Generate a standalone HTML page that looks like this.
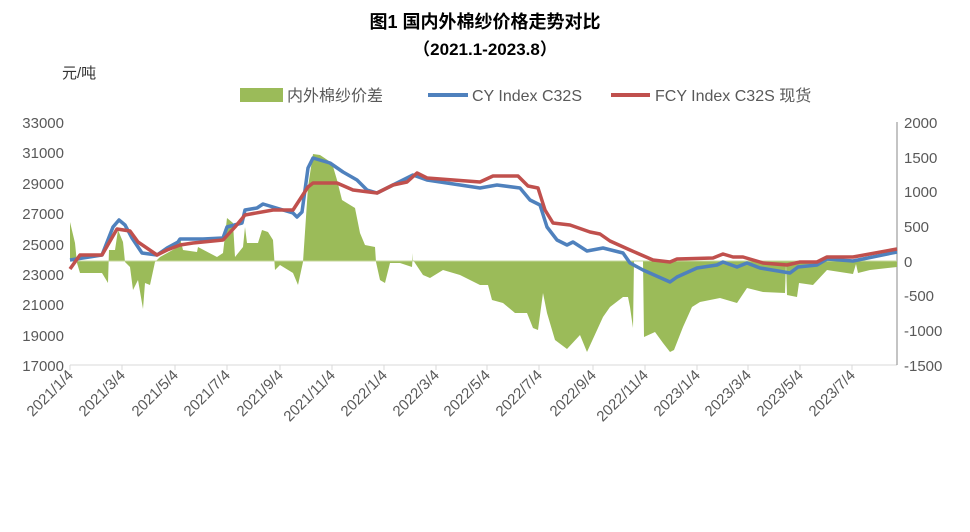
<!DOCTYPE html>
<html><head><meta charset="utf-8"><style>
body{margin:0;background:#fff;}
svg text{font-family:"Liberation Sans","Noto Sans CJK SC",sans-serif;}
</style></head><body>
<svg width="970" height="527" viewBox="0 0 970 527" xmlns="http://www.w3.org/2000/svg">
<text x="485" y="28" text-anchor="middle" font-size="18" font-weight="bold" fill="#000">图1  国内外棉纱价格走势对比</text>
<text x="485" y="55" text-anchor="middle" font-size="17" font-weight="bold" fill="#000">（2021.1-2023.8）</text>
<text x="62" y="78" font-size="15" fill="#333">元/吨</text>
<rect x="240" y="88" width="43" height="14" fill="#9BBB59"/>
<text x="287" y="101" font-size="16" fill="#595959">内外棉纱价差</text>
<line x1="428" y1="95" x2="468" y2="95" stroke="#4F81BD" stroke-width="4"/>
<text x="472" y="101" font-size="16" fill="#595959">CY Index C32S</text>
<line x1="611" y1="95" x2="650" y2="95" stroke="#C0504D" stroke-width="4"/>
<text x="655" y="101" font-size="16" fill="#595959">FCY Index C32S 现货</text>
<g font-size="15" fill="#595959" text-anchor="end">
<text x="64" y="128">33000</text><text x="64" y="158">31000</text><text x="64" y="189">29000</text><text x="64" y="219">27000</text><text x="64" y="250">25000</text><text x="64" y="280">23000</text><text x="64" y="310">21000</text><text x="64" y="341">19000</text><text x="64" y="371">17000</text>
</g>
<g font-size="15" fill="#595959" text-anchor="start">
<text x="904" y="128">2000</text><text x="904" y="163">1500</text><text x="904" y="197">1000</text><text x="904" y="232">500</text><text x="904" y="267">0</text><text x="904" y="301">-500</text><text x="904" y="336">-1000</text><text x="904" y="371">-1500</text>
</g>
<line x1="70" y1="365" x2="897" y2="365" stroke="#d9d9d9" stroke-width="1"/>
<line x1="897" y1="122" x2="897" y2="365" stroke="#888" stroke-width="1"/>
<g stroke="#d9d9d9">
<line x1="70" y1="365" x2="70" y2="370"/><line x1="122" y1="365" x2="122" y2="370"/><line x1="175" y1="365" x2="175" y2="370"/><line x1="227" y1="365" x2="227" y2="370"/><line x1="280" y1="365" x2="280" y2="370"/><line x1="332" y1="365" x2="332" y2="370"/><line x1="384" y1="365" x2="384" y2="370"/><line x1="436" y1="365" x2="436" y2="370"/><line x1="487" y1="365" x2="487" y2="370"/><line x1="539" y1="365" x2="539" y2="370"/><line x1="593" y1="365" x2="593" y2="370"/><line x1="645" y1="365" x2="645" y2="370"/><line x1="697" y1="365" x2="697" y2="370"/><line x1="748" y1="365" x2="748" y2="370"/><line x1="800" y1="365" x2="800" y2="370"/><line x1="852" y1="365" x2="852" y2="370"/>
</g>
<g font-size="15" fill="#595959" text-anchor="end">
<text transform="translate(74,376) rotate(-45)">2021/1/4</text>
<text transform="translate(126,376) rotate(-45)">2021/3/4</text>
<text transform="translate(179,376) rotate(-45)">2021/5/4</text>
<text transform="translate(231,376) rotate(-45)">2021/7/4</text>
<text transform="translate(284,376) rotate(-45)">2021/9/4</text>
<text transform="translate(336,376) rotate(-45)">2021/11/4</text>
<text transform="translate(388,376) rotate(-45)">2022/1/4</text>
<text transform="translate(440,376) rotate(-45)">2022/3/4</text>
<text transform="translate(491,376) rotate(-45)">2022/5/4</text>
<text transform="translate(543,376) rotate(-45)">2022/7/4</text>
<text transform="translate(597,376) rotate(-45)">2022/9/4</text>
<text transform="translate(649,376) rotate(-45)">2022/11/4</text>
<text transform="translate(701,376) rotate(-45)">2023/1/4</text>
<text transform="translate(752,376) rotate(-45)">2023/3/4</text>
<text transform="translate(804,376) rotate(-45)">2023/5/4</text>
<text transform="translate(856,376) rotate(-45)">2023/7/4</text>
</g>
<polygon fill="#9BBB59" points="70,261 70,222 75,243 77,263 80,273 87,273 102,273 108,283 109,250 115,250 118,230 123,242 125,262 130,267 133,290 138,280 143,309 145,283 150,285 155,262 160,257 178,247 180,238 183,250 197,252 198,247 217,257 223,253 227,218 233,223 235,257 243,247 245,227 247,243 258,243 262,230 268,232 273,240 275,270 280,265 293,273 298,285 303,262 308,187 313,154 320,155 332,163 337,180 342,200 355,208 360,233 365,245 375,247 376,262 380,280 385,283 390,263 400,263 412,267 413,253 413,260 423,275 430,278 443,270 460,275 480,285 488,285 492,300 503,303 515,313 527,313 533,328 538,330 543,293 547,313 555,340 567,349 580,335 587,352 603,317 610,307 623,297 628,297 630,307 633,328 634,261 643,261 644,337 655,332 663,343 670,352 674,350 683,327 692,307 700,302 720,298 737,303 747,288 763,292 785,293 786,263 787,295 797,297 799,283 813,285 827,270 853,274 856,264 858,273 870,270 897,267 897,261"/>
<line x1="70" y1="261" x2="897" y2="261" stroke="#c4d79b" stroke-width="1"/>
<polyline fill="none" stroke="#4F81BD" stroke-width="3.5" stroke-linejoin="round" points="70,260 102,255 113,227 119,220 125,225 132,238 142,253 157,255 167,248 178,242 180,239 203,239 223,238 227,227 242,223 245,210 257,208 263,204 273,207 293,213 297,217 302,212 308,168 313,158 330,163 343,172 357,180 367,190 377,193 393,185 413,175 427,180 480,188 497,185 520,188 530,200 540,205 547,227 557,240 567,245 573,242 587,251 603,248 623,253 630,263 643,270 670,282 677,277 697,268 717,265 723,262 737,267 747,263 760,268 790,273 798,267 817,265 827,259 853,261 897,252"/>
<polyline fill="none" stroke="#C0504D" stroke-width="3.5" stroke-linejoin="round" points="70,269 80,255 102,255 117,229 130,231 138,242 157,255 167,250 180,245 193,243 223,240 235,227 245,215 273,210 293,210 308,187 313,183 337,183 353,190 377,193 393,185 407,182 417,173 427,178 480,182 493,176 518,176 528,186 538,188 545,210 553,223 570,225 590,232 600,234 610,241 630,250 653,260 670,262 677,259 713,258 723,254 733,257 743,257 763,263 787,265 800,262 817,262 827,257 853,257 897,249"/>
</svg>
</body></html>
